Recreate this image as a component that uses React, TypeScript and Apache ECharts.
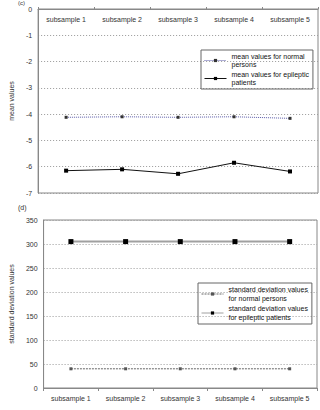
import React, { useEffect, useRef } from "react";
import * as echarts from "echarts";

const categories = ["subsample 1", "subsample 2", "subsample 3", "subsample 4", "subsample 5"];
const meanNormal = [-4.12, -4.1, -4.12, -4.1, -4.16];
const meanEpileptic = [-6.15, -6.1, -6.27, -5.85, -6.18];
const sdNormal = [40, 40, 40, 40, 40];
const sdEpileptic = [305, 305, 305, 305, 305];

const FONT = "Liberation Sans";

export default function App() {
  const ref = useRef<HTMLDivElement>(null);
  useEffect(() => {
    if (!ref.current) return;
    const chart = echarts.init(ref.current, null, { renderer: "svg" });
    const labelStyle = { color: "#333", fontSize: 7, fontFamily: FONT };
    const gridLine = { show: true, lineStyle: { color: "#999", type: [1, 2], width: 1 } };
    const legendBase = {
      orient: "vertical",
      borderColor: "#666", borderWidth: 1, padding: [2, 4, 2, 3], itemGap: 1,
      itemWidth: 22, itemHeight: 4,
      lineStyle: { width: 1 },
      textStyle: { color: "#111", fontSize: 7, fontFamily: FONT, lineHeight: 8.5 },
    };
    chart.setOption({
      animation: false,
      grid: [
        { left: 18, top: 9, width: 300, height: 184, show: true, borderColor: "#888", borderWidth: 1 },
        { left: 22, top: 220, width: 295, height: 168, show: true, borderColor: "#888", borderWidth: 1 },
      ],
      xAxis: [
        {
          gridIndex: 0, type: "category", data: categories, position: "top",
          axisLine: { lineStyle: { color: "#888" } },
          axisTick: { show: true, inside: false, length: 2, lineStyle: { color: "#888" } },
          axisLabel: { ...labelStyle, inside: true, margin: 7 },
        },
        {
          gridIndex: 1, type: "category", data: categories, position: "bottom",
          axisLine: { lineStyle: { color: "#888" } },
          axisTick: { show: true, length: 3, lineStyle: { color: "#888" } },
          axisLabel: { ...labelStyle, margin: 7 },
        },
      ],
      yAxis: [
        {
          gridIndex: 0, type: "value", min: -7, max: 0, interval: 1,
          axisLine: { show: true, lineStyle: { color: "#888" } },
          axisTick: { show: false },
          axisLabel: { ...labelStyle, margin: 6 },
          splitLine: gridLine,
          name: "mean values", nameLocation: "middle", nameGap: 13,
          nameTextStyle: { ...labelStyle },
        },
        {
          gridIndex: 1, type: "value", min: 0, max: 350, interval: 50,
          axisLine: { show: true, lineStyle: { color: "#888" } },
          axisTick: { show: false },
          axisLabel: { ...labelStyle, margin: 6 },
          splitLine: gridLine,
          name: "standard deviation values", nameLocation: "middle", nameGap: 17,
          nameTextStyle: { ...labelStyle },
        },
      ],
      legend: [
        {
          ...legendBase,
          data: ["mean values for normal persons", "mean values for epileptic patients"],
          left: 201, top: 50,
          formatter: (n: string) => n.replace(/ (persons|patients)$/, "\n$1"),
        },
        {
          ...legendBase,
          data: ["standard deviation values for normal persons", "standard deviation values for epileptic patients"],
          left: 198, top: 283,
          textStyle: { ...legendBase.textStyle, lineHeight: 9 },
          formatter: (n: string) => n.replace(/ for /, "\nfor "),
        },
      ],
      series: [
        {
          name: "mean values for normal persons", type: "line", xAxisIndex: 0, yAxisIndex: 0,
          data: meanNormal, symbol: "rect", symbolSize: 3,
          lineStyle: { color: "#5a5aa8", width: 1, type: [1, 1] },
          itemStyle: { color: "#333" },
        },
        {
          name: "mean values for epileptic patients", type: "line", xAxisIndex: 0, yAxisIndex: 0,
          data: meanEpileptic, symbol: "rect", symbolSize: 4,
          lineStyle: { color: "#111", width: 1 },
          itemStyle: { color: "#000" },
        },
        {
          name: "standard deviation values for normal persons", type: "line", xAxisIndex: 1, yAxisIndex: 1,
          data: sdNormal, symbol: "rect", symbolSize: 3,
          lineStyle: { color: "#666", width: 1, type: [2, 1] },
          itemStyle: { color: "#555" },
        },
        {
          name: "standard deviation values for epileptic patients", type: "line", xAxisIndex: 1, yAxisIndex: 1,
          data: sdEpileptic, symbol: "rect", symbolSize: 5,
          lineStyle: { color: "#a0a0a0", width: 2 },
          itemStyle: { color: "#000" },
        },
      ],
      graphic: [
        { type: "text", left: 18, top: 0, style: { text: "(c)", fontSize: 6, fontFamily: FONT, fill: "#333" } },
        { type: "text", left: 18, top: 204, style: { text: "(d)", fontSize: 7, fontFamily: FONT, fill: "#333" } },
      ],
    });
    return () => chart.dispose();
  }, []);
  return (
    <div
      ref={ref}
      style={{ position: "fixed", left: 0, top: 0, width: 320, height: 410, background: "#fff" }}
    />
  );
}
